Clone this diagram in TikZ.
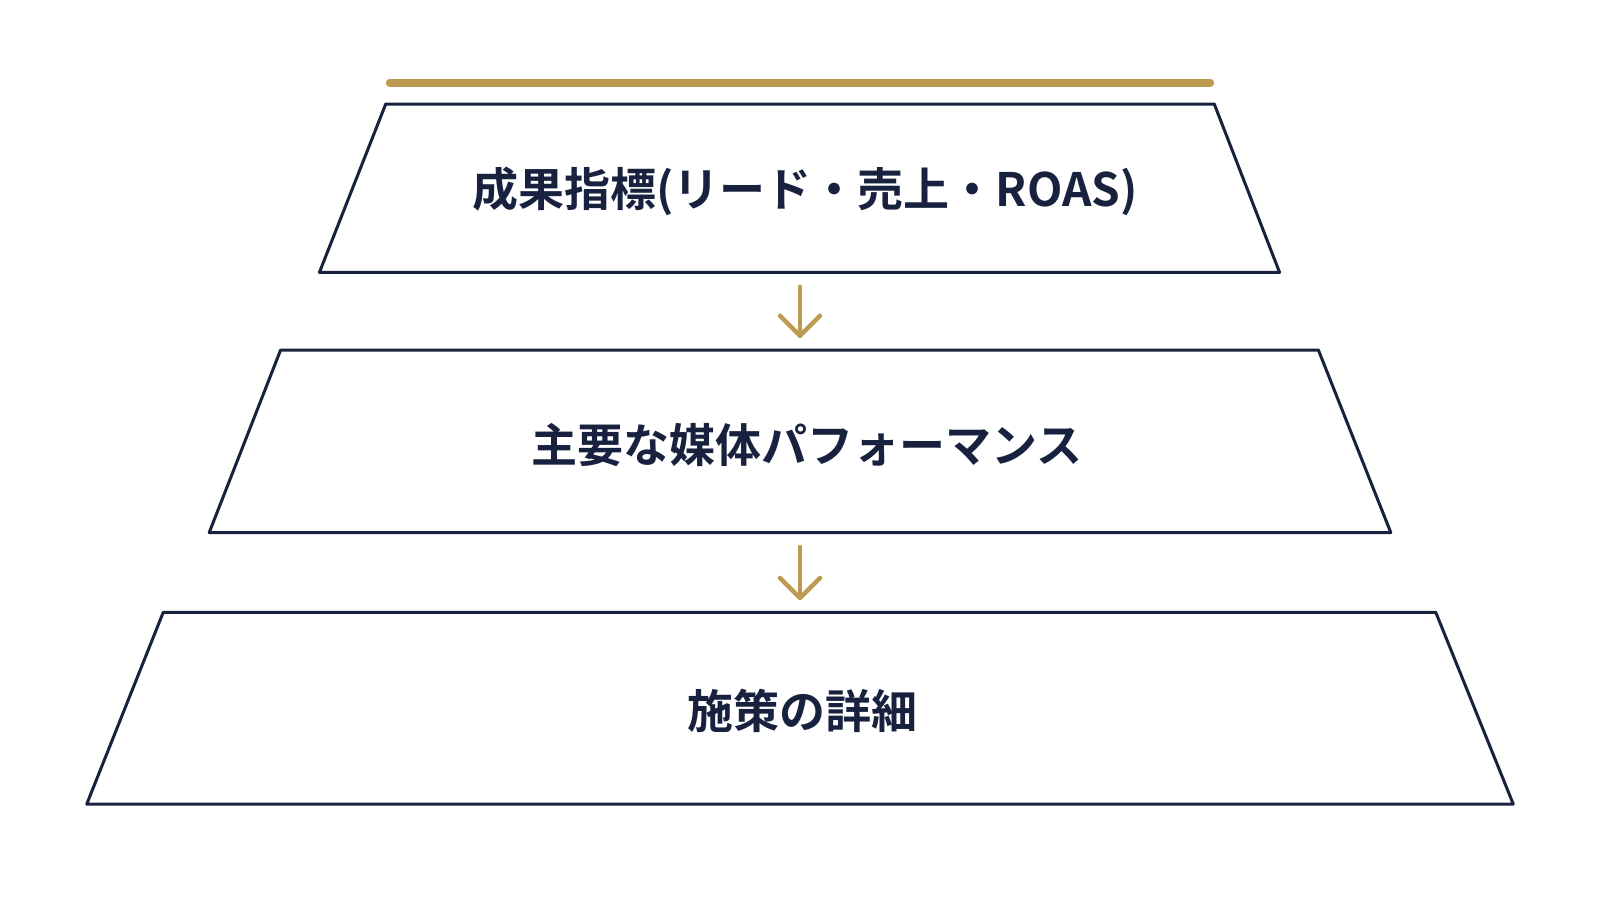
\documentclass[tikz,border=0pt]{standalone}
\usepackage{fontspec}
\newfontfamily\cjk{Noto Sans CJK JP Bold}
\usetikzlibrary{positioning}
\definecolor{navy}{HTML}{18223F}
\definecolor{gold}{HTML}{BE9B52}
\begin{document}
\begin{tikzpicture}[x=1.0204pt,y=-1.0204pt,
  tier/.style={draw=navy,line width=3pt,line join=round,fill=white},
  tiertext/.style={font=\cjk\fontsize{46}{52}\selectfont,text=navy},
  flow/.style={draw=gold,line width=4.5pt,line cap=round,line join=round}]
 \useasboundingbox (0,0) rectangle (1568,882);
 \draw[gold,line width=8pt,line cap=round] (382,81)--(1186,81);
 % tiers
 \draw[tier] (378,102)--(1190,102)--(1254,267)--(313,267)--cycle;
 \draw[tier] (275,343)--(1292,343)--(1363,522)--(205,522)--cycle;
 \draw[tier] (160,600)--(1407,600)--(1483,788)--(85,788)--cycle;
 \node[tiertext] (result) at (789,188) {成果指標(リード・売上・ROAS)};
 \node[tiertext] (media) at (791,436) {主要な媒体パフォーマンス};
 \node[tiertext] (detail) at (786,697) {施策の詳細};
 % arrows
 \coordinate (a1) at (784,281); \coordinate (b1) at (784,329);
 \coordinate (a2) at (784,536); \coordinate (b2) at (784,586);
 \draw[flow] (a1)--(b1);
 \draw[flow] ([xshift=-20pt,yshift=20pt]b1)--(b1)--([xshift=20pt,yshift=20pt]b1);
 \draw[flow] (a2)--(b2);
 \draw[flow] ([xshift=-20pt,yshift=20pt]b2)--(b2)--([xshift=20pt,yshift=20pt]b2);
\end{tikzpicture}
\end{document}
